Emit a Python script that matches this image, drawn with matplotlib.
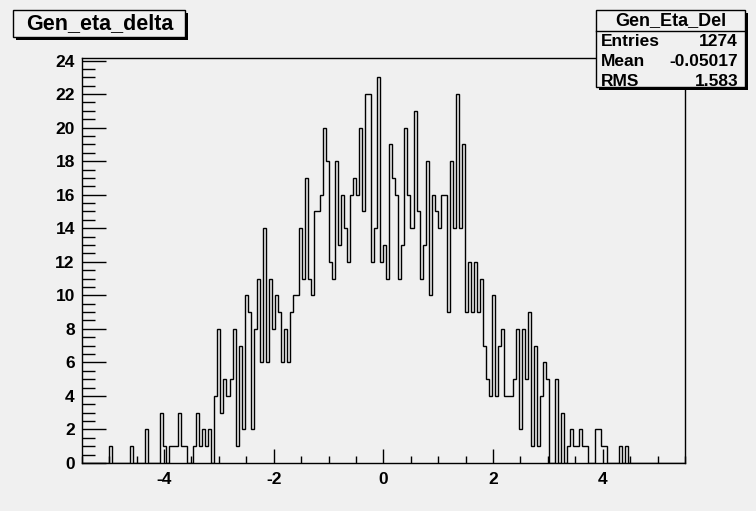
import matplotlib
matplotlib.use("Agg")
import matplotlib.pyplot as plt
from matplotlib.patches import Rectangle
from matplotlib.ticker import MultipleLocator
import numpy as np

# histogram setup: 200 bins on [-5.5, 5.5]
nbins = 200
xlow, xhigh = -5.5, 5.5

# non-empty bins (bin index -> count)
counts = {
    9: 1, 16: 1, 21: 2, 26: 3, 27: 1, 29: 1, 30: 1, 31: 1, 32: 3, 33: 1, 34: 1,
    37: 1, 38: 3, 39: 1, 40: 2, 41: 1, 42: 2,
}
block_44 = [4, 8, 3, 5, 4, 5, 8, 1, 7, 2, 10, 9, 2, 8, 11, 6, 14, 6, 11, 8,
            10, 9, 6, 8, 6, 9, 10, 10, 14, 11, 17, 11, 10, 15, 15, 16, 20, 18, 12, 11,
            18, 13, 16, 14, 12, 16, 17, 16, 20,
            15, 22, 22, 12, 14, 23, 12, 13, 11, 19, 17, 16, 11, 13, 20, 16, 14, 21, 15, 11,
            13, 18, 10, 16, 15, 14, 16, 16,
            9, 18, 14, 22, 14, 19, 9, 12, 9, 12, 9, 11, 7, 5, 4, 10, 4, 7, 8, 4,
            4, 4, 5, 8, 2, 8, 5, 9,
            1, 7, 1, 4, 6, 5, 0, 0, 5, 0, 3, 0, 1, 2, 1, 1, 2, 1, 1, 0,
            0, 2, 2, 1, 1, 0, 0, 0, 0, 1, 0, 1]

stats_title = "Gen_Eta_Del"
stats_rows = [("Entries", "1274"), ("Mean", "-0.05017"), ("RMS", "1.583")]
hist_title = "Gen_eta_delta"

values = np.zeros(nbins)
for k, v in counts.items():
    values[k] = v
values[44:44 + len(block_44)] = block_44
edges = np.linspace(xlow, xhigh, nbins + 1)

plt.rcParams['font.family'] = ['Liberation Sans', 'DejaVu Sans']
plt.rcParams['font.weight'] = 'bold'
plt.rcParams['axes.unicode_minus'] = False

W, H = 756, 511
bg = '#f0f0f0'
fig = plt.figure(figsize=(W / 100, H / 100), dpi=100, facecolor=bg)

# frame in pixel coordinates
fx0, fx1, fy0, fy1 = 81.7, 685.0, 58.0, 463.0
ax = fig.add_axes([fx0 / W, 1 - fy1 / H, (fx1 - fx0) / W, (fy1 - fy0) / H])
ax.set_facecolor(bg)
ax.stairs(values, edges, color='black', linewidth=1.0)
ax.set_xlim(xlow, xhigh)
ax.set_ylim(0, 24.15)

for side in ('top', 'right', 'left', 'bottom'):
    ax.spines[side].set_linewidth(1.0)
ax.xaxis.set_major_locator(MultipleLocator(2))
ax.xaxis.set_minor_locator(MultipleLocator(0.5))
ax.yaxis.set_major_locator(MultipleLocator(2))
ax.yaxis.set_minor_locator(MultipleLocator(0.5))
ax.tick_params(axis='x', which='major', direction='in', length=10, width=1.0,
               labelsize=12.5, pad=6.5)
ax.tick_params(axis='x', which='minor', direction='in', length=5, width=1.0)
ax.tick_params(axis='y', which='major', direction='in', length=17, width=1.0,
               labelsize=12.5, pad=5)
ax.tick_params(axis='y', which='minor', direction='in', length=9, width=1.0)
ax.set_xticks([-4, -2, 0, 2, 4])
ax.set_xticklabels(['-4', '-2', '0', '2', '4'])

# overlay for the title and stats boxes, drawn in pixels
ov = fig.add_axes([0, 0, 1, 1], zorder=10)
ov.set_xlim(0, W)
ov.set_ylim(H, 0)
ov.axis('off')
ov.patch.set_alpha(0)


def pave(x0, y0, x1, y1, shadow=3):
    ov.add_patch(Rectangle((x0 + shadow, y0 + shadow), x1 - x0, y1 - y0,
                           facecolor='black', edgecolor='none'))
    ov.add_patch(Rectangle((x0, y0), x1 - x0, y1 - y0,
                           facecolor=bg, edgecolor='black', linewidth=1.0))


pave(13, 10, 185, 37)
ov.text(100, 24, hist_title, ha='center', va='center', fontsize=15.5,
        fontweight='bold')

pave(596, 10, 745, 87.5)
ov.plot([596, 745], [31.5, 31.5], color='black', linewidth=1.0)
ov.text(671, 21, stats_title, ha='center', va='center', fontsize=13,
        fontweight='bold')
for i, (name, val) in enumerate(stats_rows):
    y = 42 + i * 19.5
    ov.text(601, y, name, ha='left', va='center', fontsize=12.5, fontweight='bold')
    ov.text(738, y, val, ha='right', va='center', fontsize=12.5, fontweight='bold')

fig.savefig('out.png', dpi=100, facecolor=bg)
